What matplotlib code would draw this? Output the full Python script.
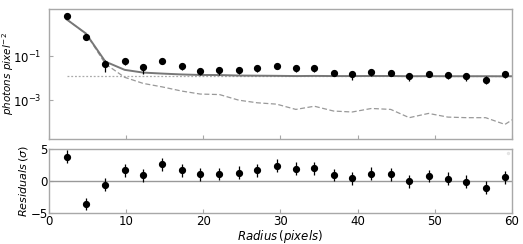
import matplotlib
matplotlib.use('Agg')
import matplotlib.pyplot as plt
import numpy as np

# radial profile data
radius = [2.3, 4.8, 7.3, 9.8, 12.2, 14.7, 17.2, 19.6, 22.1, 24.6, 27.0, 29.5,
          32.0, 34.4, 36.9, 39.3, 41.8, 44.3, 46.7, 49.2, 51.7, 54.1, 56.6, 59.1]
flux = [6.6, 0.76, 0.042, 0.061, 0.031, 0.061, 0.035, 0.022, 0.023, 0.023, 0.028, 0.035,
        0.028, 0.028, 0.018, 0.015, 0.019, 0.018, 0.0124, 0.016, 0.014, 0.012, 0.0087, 0.015]
flux_err = [0.5, 0.09, 0.023, 0.022, 0.015, 0.017, 0.012, 0.008, 0.0084, 0.0075, 0.009, 0.009,
            0.008, 0.0079, 0.006, 0.0066, 0.006, 0.0055, 0.005, 0.005, 0.005, 0.0045, 0.0034, 0.005]

# model curves (one extra bin past the axis edge)
model_r = radius + [61.5]
model_total = [4.7, 1.07, 0.057, 0.024, 0.018, 0.0162, 0.0148, 0.0140, 0.0139, 0.0132, 0.0130, 0.0128,
               0.0125, 0.0127, 0.0125, 0.0125, 0.0126, 0.0126, 0.0123, 0.0124, 0.0123, 0.0123, 0.0123, 0.0122, 0.0124]
model_psf = [4.7, 1.05, 0.045, 0.011, 0.0058, 0.0040, 0.0026, 0.0019, 0.0018, 0.0010, 7.6e-4, 6.6e-4,
             3.8e-4, 5.3e-4, 3.2e-4, 2.9e-4, 4.2e-4, 3.8e-4, 1.6e-4, 2.5e-4, 1.7e-4, 1.6e-4, 1.6e-4, 7.9e-5, 2.7e-4]
background = [0.0122] * len(model_r)

residuals = [3.8, -3.6, -0.57, 1.66, 0.88, 2.59, 1.66, 1.04, 1.09, 1.3, 1.66, 2.43,
             1.92, 1.97, 0.93, 0.41, 1.14, 1.04, -0.05, 0.78, 0.36, -0.1, -1.04, 0.57]
residual_err = [1.0] * len(residuals)

spine_col = '#a8a8a8'

fig = plt.figure(figsize=(5.23, 2.44), dpi=100)
ax1 = fig.add_axes([0.0937, 0.430, 0.885, 0.533])
ax2 = fig.add_axes([0.0937, 0.127, 0.885, 0.262])

# top: profile
ax1.plot(model_r, background, ls=(0, (1.5, 1.5)), color='#aaaaaa', lw=0.9)
ax1.plot(model_r, model_psf, ls=(0, (4, 2)), color='#999999', lw=0.9)
ax1.plot(model_r, model_total, color='#777777', lw=1.4)
ax1.errorbar(radius, flux, yerr=flux_err, fmt='o', color='black', ms=4.2,
             elinewidth=0.9, capsize=0, zorder=5)
ax1.set_yscale('log')
ax1.set_ylim(1.7e-5, 14)
ax1.set_xlim(0, 60)
ax1.set_yticks([1e-1, 1e-3])
ax1.minorticks_off()
ax1.set_xticks([0, 10, 20, 30, 40, 50, 60])
ax1.tick_params(axis='x', labelbottom=False)
ax1.set_ylabel(r'$photons\ pixel^{-2}$', fontsize=7.5)
ax1.yaxis.set_label_coords(-0.072, 0.5)

# bottom: residuals
ax2.axhline(0, color='#999999', lw=1.0)
ax2.errorbar(radius, residuals, yerr=residual_err, fmt='o', color='black', ms=4.2,
             elinewidth=0.9, capsize=0, zorder=5)
ax2.set_xlim(0, 60)
ax2.set_ylim(-5, 5)
ax2.set_yticks([-5, 0, 5])
ax2.set_xticks([0, 10, 20, 30, 40, 50, 60])
ax2.set_xlabel(r'$Radius\,(pixels)$', fontsize=8.5, labelpad=0)
ax2.set_ylabel(r'$Residuals\,(\sigma)$', fontsize=8)
ax2.yaxis.set_label_coords(-0.041, 0.5)
leg = ax2.legend(handles=[], loc='upper right', frameon=True, borderpad=0.2,
                 handlelength=0, fontsize=4)
leg.get_frame().set_edgecolor('#dddddd')

for ax in (ax1, ax2):
    for s in ax.spines.values():
        s.set_color(spine_col)
        s.set_linewidth(1.0)
    ax.tick_params(direction='in', color=spine_col, labelsize=8.5, length=3)
    ax.tick_params(axis='x', pad=1.5)
ax1.tick_params(axis='y', labelsize=8.5, pad=5.5)
ax2.tick_params(axis='y', labelsize=8.5, pad=0.8)

fig.savefig('out.png', dpi=100)
